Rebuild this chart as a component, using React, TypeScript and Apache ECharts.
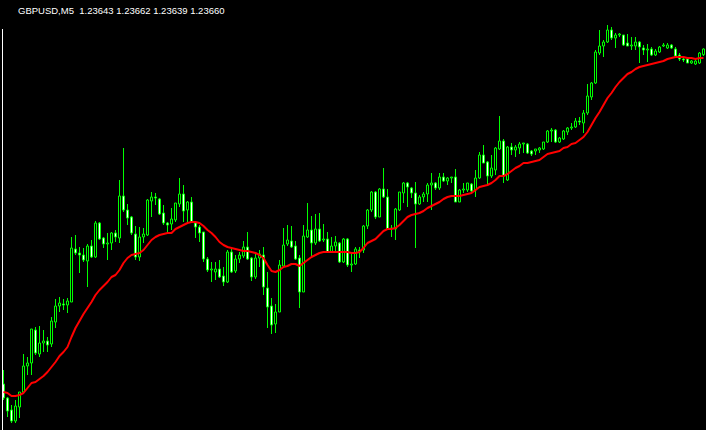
import { useEffect, useRef } from "react";
import * as echarts from "echarts";

const symbol = "GBPUSD";
const period = "M5";

const opens = [
  1.22655,1.22613,1.22577,1.22544,1.22586,1.22631,1.22709,1.22718,1.22817,1.22745,
  1.22778,1.22784,1.22775,1.22841,1.22889,1.22895,1.22892,1.22901,1.23060,1.23048,
  1.23042,1.23024,1.23069,1.23036,1.23138,1.23093,1.23075,1.23078,1.23108,1.23093,
  1.23219,1.23177,1.23156,1.23105,1.23036,1.23096,1.23102,1.23204,1.23216,1.23210,
  1.23168,1.23138,1.23135,1.23147,1.23195,1.23225,1.23177,1.23201,1.23138,1.23126,
  1.23111,1.23030,1.22997,1.22991,1.23000,1.22979,1.22961,1.23051,1.22994,1.23030,
  1.23039,1.23066,1.23033,1.22976,1.23033,1.23042,1.22943,1.22889,1.22835,1.22871,
  1.23009,1.23075,1.23084,1.23069,1.23033,1.22931,1.23096,1.23117,1.23078,1.23120,
  1.23087,1.23090,1.23051,1.23069,1.23078,1.23021,1.23090,1.23012,1.23015,1.23057,
  1.23057,1.23129,1.23177,1.23231,1.23156,1.23240,1.23216,1.23120,1.23120,1.23177,
  1.23228,1.23258,1.23243,1.23228,1.23195,1.23216,1.23225,1.23252,1.23258,1.23243,
  1.23276,1.23264,1.23273,1.23276,1.23201,1.23237,1.23237,1.23255,1.23237,1.23273,
  1.23342,1.23321,1.23279,1.23297,1.23360,1.23384,1.23267,1.23366,1.23357,1.23363,
  1.23375,1.23375,1.23354,1.23354,1.23357,1.23360,1.23381,1.23414,1.23417,1.23381,
  1.23390,1.23411,1.23423,1.23426,1.23444,1.23438,1.23468,1.23516,1.23558,1.23648,
  1.23669,1.23681,1.23717,1.23693,1.23702,1.23702,1.23678,1.23669,1.23669,1.23681,
  1.23663,1.23657,1.23660,1.23642,1.23651,1.23669,1.23663,1.23672,1.23660,1.23642,
  1.23630,1.23630,1.23618,1.23615,1.23618,1.23643,
];

const highs = [
  1.22697,1.22616,1.22592,1.22607,1.22631,1.22745,1.22736,1.22820,1.22826,1.22829,
  1.22817,1.22796,1.22856,1.22910,1.22916,1.22910,1.22913,1.23096,1.23102,1.23066,
  1.23063,1.23075,1.23087,1.23144,1.23141,1.23096,1.23108,1.23111,1.23117,1.23267,
  1.23363,1.23195,1.23159,1.23129,1.23126,1.23123,1.23210,1.23231,1.23228,1.23213,
  1.23192,1.23141,1.23183,1.23198,1.23273,1.23252,1.23204,1.23216,1.23144,1.23132,
  1.23111,1.23036,1.23021,1.23021,1.23027,1.23006,1.23057,1.23066,1.23042,1.23051,
  1.23084,1.23111,1.23036,1.23048,1.23057,1.23066,1.22991,1.22913,1.22895,1.23027,
  1.23123,1.23132,1.23129,1.23084,1.23042,1.23132,1.23198,1.23159,1.23165,1.23168,
  1.23135,1.23111,1.23096,1.23099,1.23081,1.23093,1.23093,1.23045,1.23066,1.23066,
  1.23132,1.23180,1.23234,1.23234,1.23243,1.23303,1.23240,1.23132,1.23183,1.23231,
  1.23261,1.23261,1.23246,1.23261,1.23222,1.23231,1.23258,1.23288,1.23261,1.23288,
  1.23288,1.23276,1.23276,1.23300,1.23240,1.23258,1.23258,1.23258,1.23297,1.23351,
  1.23372,1.23324,1.23342,1.23366,1.23459,1.23390,1.23369,1.23378,1.23372,1.23381,
  1.23378,1.23378,1.23357,1.23360,1.23366,1.23381,1.23417,1.23423,1.23420,1.23396,
  1.23417,1.23426,1.23438,1.23453,1.23456,1.23477,1.23555,1.23561,1.23657,1.23717,
  1.23687,1.23732,1.23726,1.23708,1.23708,1.23702,1.23705,1.23696,1.23696,1.23684,
  1.23672,1.23675,1.23666,1.23660,1.23669,1.23678,1.23678,1.23675,1.23666,1.23648,
  1.23639,1.23633,1.23627,1.23630,1.23651,1.23662,
];

const lows = [
  1.22607,1.22556,1.22538,1.22538,1.22553,1.22631,1.22682,1.22682,1.22742,1.22736,
  1.22751,1.22751,1.22766,1.22823,1.22871,1.22877,1.22868,1.22901,1.23042,1.22988,
  1.23021,1.22946,1.23033,1.23033,1.23087,1.23063,1.23027,1.23057,1.23081,1.23078,
  1.23171,1.23132,1.23102,1.23027,1.23024,1.23078,1.23099,1.23156,1.23192,1.23162,
  1.23132,1.23108,1.23117,1.23141,1.23186,1.23141,1.23141,1.23138,1.23093,1.23081,
  1.23021,1.22991,1.22961,1.22967,1.22973,1.22949,1.22958,1.22988,1.22988,1.23018,
  1.23033,1.23027,1.22964,1.22970,1.23006,1.22922,1.22823,1.22805,1.22808,1.22871,
  1.23009,1.23069,1.23063,1.23027,1.22883,1.22931,1.23093,1.23039,1.23072,1.23081,
  1.23081,1.23051,1.23051,1.23048,1.23018,1.23018,1.23006,1.22991,1.23012,1.23033,
  1.23048,1.23120,1.23171,1.23150,1.23156,1.23213,1.23117,1.23096,1.23087,1.23174,
  1.23198,1.23186,1.23213,1.23063,1.23192,1.23201,1.23201,1.23177,1.23237,1.23237,
  1.23261,1.23252,1.23258,1.23201,1.23201,1.23228,1.23231,1.23231,1.23216,1.23270,
  1.23318,1.23255,1.23273,1.23282,1.23357,1.23258,1.23264,1.23342,1.23336,1.23345,
  1.23348,1.23345,1.23339,1.23342,1.23348,1.23357,1.23378,1.23381,1.23378,1.23378,
  1.23387,1.23402,1.23417,1.23423,1.23432,1.23408,1.23462,1.23507,1.23555,1.23642,
  1.23636,1.23678,1.23687,1.23663,1.23696,1.23669,1.23669,1.23657,1.23657,1.23618,
  1.23642,1.23621,1.23639,1.23639,1.23648,1.23666,1.23660,1.23660,1.23636,1.23624,
  1.23621,1.23618,1.23615,1.23612,1.23615,1.23639,
];

const closes = [
  1.22613,1.22574,1.22544,1.22589,1.22631,1.22709,1.22718,1.22820,1.22748,1.22778,
  1.22784,1.22772,1.22844,1.22889,1.22898,1.22892,1.22904,1.23063,1.23048,1.23042,
  1.23027,1.23069,1.23036,1.23138,1.23090,1.23075,1.23078,1.23108,1.23096,1.23219,
  1.23177,1.23153,1.23108,1.23036,1.23096,1.23105,1.23207,1.23216,1.23213,1.23165,
  1.23138,1.23132,1.23150,1.23198,1.23225,1.23174,1.23201,1.23141,1.23126,1.23108,
  1.23030,1.22997,1.23000,1.23000,1.22976,1.22961,1.23051,1.22991,1.23030,1.23042,
  1.23066,1.23030,1.22976,1.23033,1.23045,1.22946,1.22886,1.22832,1.22871,1.23012,
  1.23072,1.23087,1.23066,1.23030,1.22931,1.23099,1.23117,1.23078,1.23120,1.23084,
  1.23090,1.23051,1.23069,1.23081,1.23021,1.23090,1.23012,1.23015,1.23060,1.23054,
  1.23129,1.23177,1.23231,1.23156,1.23240,1.23216,1.23120,1.23123,1.23180,1.23231,
  1.23258,1.23246,1.23228,1.23195,1.23216,1.23225,1.23252,1.23258,1.23243,1.23276,
  1.23264,1.23273,1.23276,1.23201,1.23237,1.23240,1.23258,1.23234,1.23273,1.23342,
  1.23318,1.23279,1.23303,1.23363,1.23384,1.23279,1.23366,1.23357,1.23366,1.23375,
  1.23378,1.23348,1.23345,1.23360,1.23363,1.23381,1.23414,1.23417,1.23381,1.23393,
  1.23414,1.23423,1.23426,1.23444,1.23441,1.23468,1.23519,1.23558,1.23651,1.23669,
  1.23681,1.23717,1.23693,1.23702,1.23705,1.23672,1.23669,1.23672,1.23681,1.23666,
  1.23657,1.23660,1.23642,1.23654,1.23666,1.23672,1.23672,1.23663,1.23639,1.23630,
  1.23627,1.23618,1.23624,1.23624,1.23648,1.23660,
];

const movingAverage = [
  1.22631,1.22628,1.22619,1.22619,1.22622,1.22628,1.22643,1.22658,1.22661,1.22670,
  1.22679,1.22691,1.22706,1.22721,1.22739,1.22751,1.22766,1.22796,1.22823,1.22844,
  1.22865,1.22883,1.22901,1.22922,1.22937,1.22949,1.22961,1.22976,1.22982,1.22997,
  1.23018,1.23033,1.23042,1.23045,1.23048,1.23057,1.23072,1.23087,1.23096,1.23102,
  1.23105,1.23108,1.23108,1.23120,1.23126,1.23132,1.23138,1.23141,1.23141,1.23138,
  1.23129,1.23117,1.23108,1.23096,1.23081,1.23072,1.23066,1.23063,1.23060,1.23057,
  1.23054,1.23054,1.23051,1.23048,1.23042,1.23033,1.23012,1.22994,1.22991,1.22997,
  1.23006,1.23009,1.23015,1.23015,1.23009,1.23018,1.23027,1.23036,1.23042,1.23048,
  1.23051,1.23051,1.23051,1.23051,1.23051,1.23051,1.23051,1.23048,1.23048,1.23051,
  1.23063,1.23078,1.23084,1.23090,1.23102,1.23114,1.23120,1.23120,1.23123,1.23132,
  1.23144,1.23156,1.23162,1.23165,1.23168,1.23174,1.23183,1.23189,1.23195,1.23201,
  1.23210,1.23216,1.23219,1.23219,1.23219,1.23222,1.23225,1.23228,1.23237,1.23246,
  1.23249,1.23252,1.23258,1.23267,1.23279,1.23279,1.23285,1.23294,1.23303,1.23309,
  1.23318,1.23318,1.23321,1.23324,1.23327,1.23336,1.23345,1.23348,1.23351,1.23354,
  1.23363,1.23366,1.23375,1.23378,1.23387,1.23396,1.23411,1.23432,1.23453,1.23471,
  1.23492,1.23513,1.23528,1.23546,1.23561,1.23573,1.23585,1.23591,1.23600,1.23606,
  1.23609,1.23612,1.23615,1.23618,1.23621,1.23624,1.23630,1.23633,1.23636,1.23636,
  1.23636,1.23633,1.23633,1.23630,1.23633,1.23633,
];

// bar open times (M5), labels only
const barTimes: string[] = [];
for (let i = 0; i < opens.length; i++) {
  const m = 8 * 60 + 55 + 5 * i;
  const hh = String(Math.floor(m / 60) % 24).padStart(2, "0");
  const mm = String(m % 60).padStart(2, "0");
  barTimes.push(`${hh}:${mm}`);
}

const priceMin = 1.22517;
const priceMax = 1.23807;

export default function App() {
  const ref = useRef<HTMLDivElement>(null);

  useEffect(() => {
    if (!ref.current) return;
    const chart = echarts.init(ref.current, null, { renderer: "svg" });
    const last = opens.length - 1;
    const title = `${symbol},${period}  ${opens[last].toFixed(5)} ${highs[last].toFixed(5)} ${lows[last].toFixed(5)} ${closes[last].toFixed(5)}`;
    const candleData = opens.map((o, i) => [o, closes[i], lows[i], highs[i]]);

    chart.setOption({
      animation: false,
      backgroundColor: "#000000",
      grid: { left: 1.5, top: 0, width: 704, height: 430 },
      xAxis: {
        type: "category",
        data: barTimes,
        boundaryGap: true,
        show: false,
      },
      yAxis: {
        type: "value",
        min: priceMin,
        max: priceMax,
        show: false,
        splitLine: { show: false },
      },
      series: [
        {
          type: "candlestick",
          data: candleData,
          barWidth: 2,
          silent: true,
          itemStyle: {
            color: "#000000",
            color0: "#ffffff",
            borderColor: "#00ff00",
            borderColor0: "#00ff00",
            borderColorDoji: "#00ff00",
            borderWidth: 1,
          },
          z: 2,
        },
        {
          type: "line",
          data: movingAverage,
          symbol: "none",
          silent: true,
          lineStyle: { color: "#ff0000", width: 2 },
          itemStyle: { color: "#ff0000" },
          z: 3,
        },
      ],
      graphic: [
        {
          type: "line",
          shape: { x1: 2.5, y1: 29, x2: 2.5, y2: 430 },
          style: { stroke: "#ffffff", lineWidth: 1 },
          z: 10,
        },
        {
          type: "text",
          x: 18,
          y: 10.2,
          style: {
            text: title,
            fill: "#ffffff",
            fontSize: 9.5,
            fontFamily: "Liberation Sans, Arial, sans-serif",
            verticalAlign: "middle",
            align: "left",
          },
          z: 10,
        },
      ],
    });

    return () => chart.dispose();
  }, []);

  return (
    <div
      ref={ref}
      style={{
        position: "fixed",
        left: 0,
        top: 0,
        width: 706,
        height: 430,
        background: "#000000",
      }}
    />
  );
}
